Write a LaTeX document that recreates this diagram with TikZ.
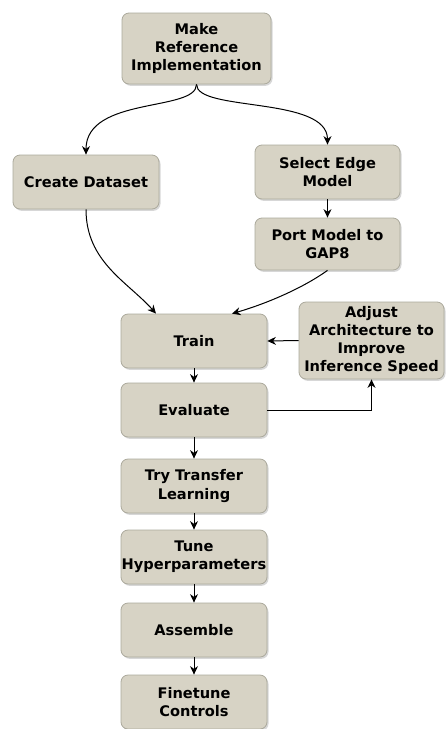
\documentclass[tikz,border=0pt]{standalone}
\usepackage{fontspec}
\setmainfont{DejaVu Sans}
\usetikzlibrary{arrows.meta,shadows}
\definecolor{boxfill}{HTML}{D7D3C5}
\definecolor{boxline}{HTML}{ABA99C}
\tikzset{
  stepbox/.style={draw=boxline, fill=boxfill, rounded corners=7pt, line width=0.8pt,
    minimum width=146pt, minimum height=54pt, inner sep=0pt, align=center,
    font=\fontsize{14.6}{18.3}\selectfont\bfseries,
    drop shadow={shadow xshift=1.5pt, shadow yshift=-1.8pt, fill=black!35, opacity=0.45}},
  flow/.style={draw=black, line width=1pt, -{Stealth[length=8.5pt,width=8pt]}}
}
\begin{document}
\begin{tikzpicture}[x=1pt,y=-1pt]
\useasboundingbox (0,0) rectangle (445,729);
\node[stepbox, minimum height=71pt, minimum width=149pt] (ref) at (196.5,48.5) {Make\\Reference\\Implementation};
\node[stepbox] (data) at (86,182) {Create Dataset};
\node[stepbox, minimum width=145pt] (edge) at (327.5,172) {Select Edge\\Model};
\node[stepbox, minimum width=145pt, minimum height=52pt] (port) at (327.5,244) {Port Model to\\GAP8};
\node[stepbox] (train) at (194,341) {Train};
\node[stepbox, minimum width=145pt, minimum height=77pt] (adjust) at (371.5,340.5) {Adjust\\Architecture to\\Improve\\Inference Speed};
\node[stepbox] (eval) at (194,410) {Evaluate};
\node[stepbox] (transfer) at (194,486) {Try Transfer\\Learning};
\node[stepbox] (tune) at (194,557) {Tune\\Hyperparameters};
\node[stepbox] (assemble) at (194,630) {Assemble};
\node[stepbox] (finetune) at (194,702) {Finetune\\Controls};

\draw[flow] (ref.south) .. controls (196.5,112) and (86,96) .. (data.north);
\draw[flow] (ref.south) .. controls (196.5,112) and (327.5,96) .. (edge.north);
\draw[flow] (edge) -- (port);
\draw[flow] (data.south) .. controls (86,262) and (128,282) .. ([xshift=-38pt]train.north);
\draw[flow] (port.south) .. controls (300,290) and (262,305) .. ([xshift=38pt]train.north);
\draw[flow] (adjust.west) -- (train.east);
\draw[flow] (eval.east) -| (adjust.south);
\draw[flow] (train) -- (eval);
\draw[flow] (eval) -- (transfer);
\draw[flow] (transfer) -- (tune);
\draw[flow] (tune) -- (assemble);
\draw[flow] (assemble) -- (finetune);
\end{tikzpicture}
\end{document}
